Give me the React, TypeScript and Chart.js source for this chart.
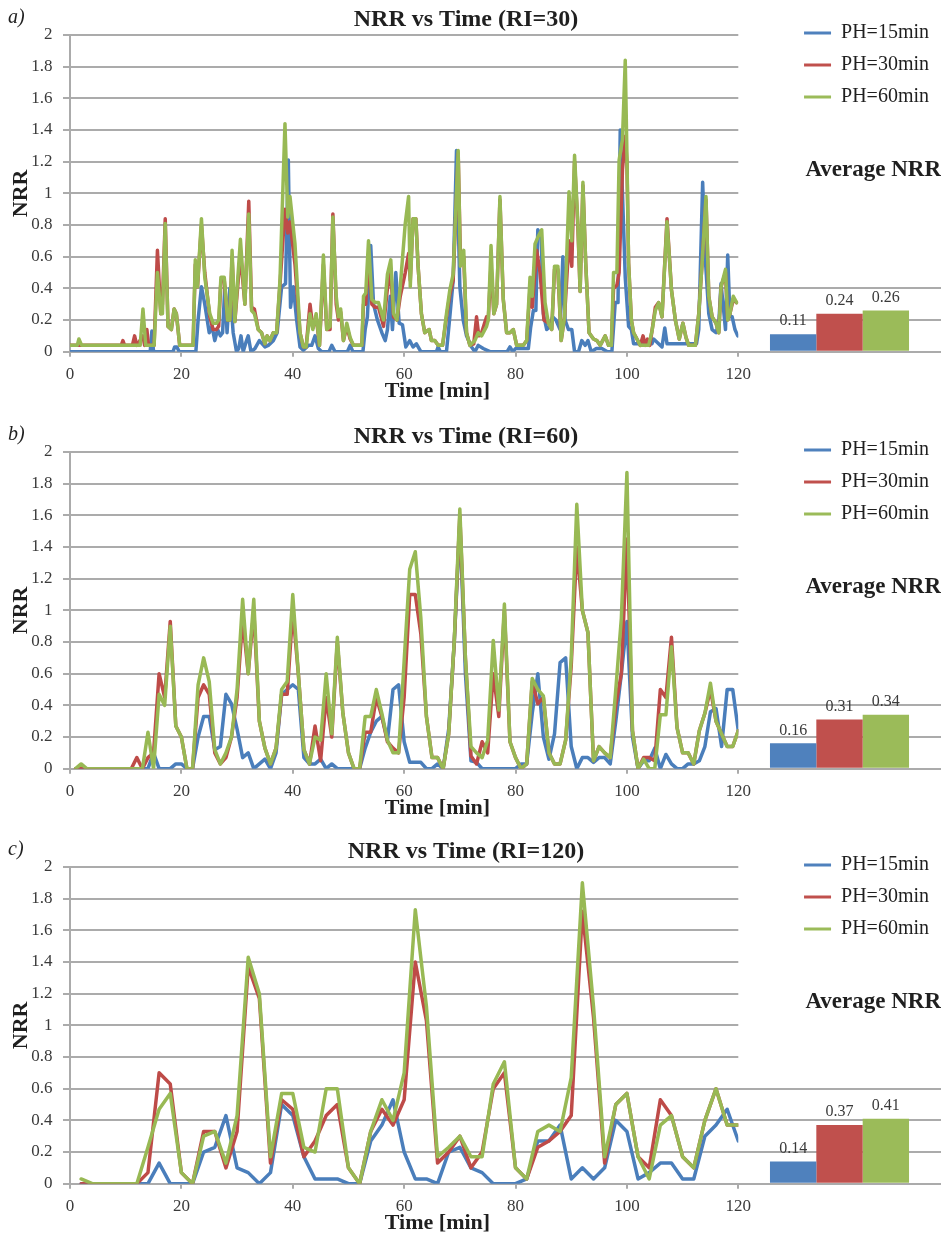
import React, { useEffect, useRef } from 'react';
import { Chart, registerables } from 'chart.js';
Chart.register(...registerables);

const FONT = '"Liberation Serif", "Times New Roman", serif';
const GRID = '#ababab';
const TEXT = '#1f1f1f';
const TICK = '#3a3a3a';
const LINE_COLORS = ['#4A7EBB', '#BE4B48', '#98B954'];
const BAR_COLORS = ['#4F81BD', '#C0504D', '#9BBB59'];

const seriesLabels = ['PH=15min', 'PH=30min', 'PH=60min'];
const panelLetters = ['a)', 'b)', 'c)'];
const panelTitles = ['NRR vs Time (RI=30)', 'NRR vs Time (RI=60)', 'NRR vs Time (RI=120)'];
const xAxisTitle = 'Time [min]';
const yAxisTitle = 'NRR';
const barTitle = 'Average NRR';

// Average NRR per panel
const avgA = [0.11, 0.24, 0.26];
const avgB = [0.16, 0.31, 0.34];
const avgC = [0.14, 0.37, 0.41];
const barAxisMax = [0.4, 0.4, 0.6];

// Panel a (RI=30): [time, NRR] vertices
const a15 = [[0,0],[14.4,0],[14.7,0.13],[15,0],[18.5,0],[18.8,0.03],[19.2,0.03],[19.6,0],[22.6,0],[23,0.2],[23.6,0.41],[24.2,0.3],[25,0.12],[25.5,0.16],[26,0.07],[26.5,0.14],[27,0.1],[27.4,0.12],[27.8,0.41],[28.2,0.12],[28.7,0.4],[29.3,0.12],[29.9,0],[30.3,0.02],[30.7,0.1],[31.1,0],[31.6,0.06],[32,0.1],[32.5,0],[33.2,0.02],[34,0.07],[35,0.03],[35.6,0.04],[36.5,0.07],[37.2,0.12],[38,0.41],[38.7,0.43],[39.2,1.21],[39.6,0.28],[40.1,0.41],[40.7,0.2],[41.3,0.03],[41.9,0.01],[42.8,0.04],[43.4,0.04],[44,0.1],[44.6,0.02],[45.2,0],[46.5,0],[47,0.04],[47.6,0],[49.8,0],[50.3,0.04],[50.8,0],[52.6,0],[53,0.14],[53.4,0.22],[54,0.67],[54.5,0.3],[55.2,0.2],[56,0.12],[56.6,0.07],[57,0.14],[57.5,0.35],[57.9,0.14],[58.5,0.5],[59.1,0.18],[59.7,0.17],[60.3,0.03],[61,0.07],[61.6,0.03],[62.2,0.05],[63,0],[65.8,0],[66.1,0.03],[66.5,0],[67.6,0],[68.2,0.22],[68.8,0.45],[69.4,1.27],[70,0.41],[70.6,0.2],[71.2,0.1],[72.1,0.03],[72.7,0],[73.3,0.04],[74.2,0.02],[75.4,0],[78.5,0],[79,0.03],[79.5,0],[80,0.02],[82.3,0.02],[82.7,0.15],[83.2,0.26],[83.65,0.26],[84,0.77],[84.6,0.73],[85,0.24],[85.6,0.14],[86.2,0.16],[86.65,0.22],[87.25,0.2],[88,0.14],[88.5,0.6],[88.9,0.2],[89.5,0.14],[90.1,0.14],[90.6,0],[91.3,0],[91.9,0.07],[92.5,0.04],[93,0.07],[93.6,0],[94.5,0.02],[95.5,0.02],[96.5,0],[97.3,0],[97.9,0.31],[98.4,0.31],[98.8,1.4],[99.2,1.0],[99.7,0.47],[100.3,0.16],[100.8,0.14],[101.2,0.05],[104.5,0.05],[104.8,0.08],[106.3,0.03],[106.8,0.15],[107.2,0.05],[112.5,0.05],[112.9,0.14],[113.6,1.07],[114.05,0.6],[114.7,0.24],[115.3,0.14],[116,0.12],[116.5,0.18],[116.9,0.43],[117.7,0.14],[118.1,0.61],[118.5,0.22],[118.9,0.22],[119.4,0.14],[119.9,0.1]];
const a30 = [[0,0.04],[9.2,0.04],[9.5,0.07],[9.8,0.04],[11.2,0.04],[11.6,0.1],[12,0.04],[13.1,0.1],[13.4,0.04],[13.8,0.14],[14.1,0.04],[15.1,0.04],[15.7,0.64],[16.3,0.24],[16.6,0.3],[17.1,0.84],[17.6,0.16],[18.2,0.14],[18.7,0.27],[19.1,0.24],[19.7,0.04],[22.1,0.04],[22.5,0.55],[22.9,0.41],[23.6,0.8],[24.2,0.5],[25.1,0.22],[25.7,0.14],[26.3,0.14],[26.7,0.16],[27.1,0.45],[27.7,0.45],[28.3,0.2],[28.7,0.2],[29.1,0.6],[29.6,0.19],[30.6,0.62],[31.4,0.3],[32.1,0.95],[32.6,0.28],[33.1,0.27],[33.8,0.14],[34.4,0.12],[35,0.05],[35.4,0.1],[35.9,0.07],[36.5,0.12],[37.1,0.12],[37.7,0.42],[38.6,0.9],[39.1,0.75],[39.5,0.82],[40.4,0.55],[41.3,0.12],[41.9,0.03],[42.4,0.03],[43.1,0.3],[43.6,0.15],[44.2,0.22],[44.8,0.04],[45.5,0.55],[46.1,0.14],[46.7,0.14],[47.2,0.87],[47.8,0.3],[48.2,0.2],[48.6,0.25],[49.1,0.07],[49.7,0.16],[50.3,0.08],[50.9,0.04],[52.4,0.04],[52.7,0.3],[53.1,0.3],[53.6,0.6],[54.2,0.3],[54.8,0.28],[55.4,0.28],[56.3,0.16],[57,0.4],[57.6,0.5],[58.1,0.22],[58.7,0.2],[59.3,0.35],[60.2,0.5],[60.8,0.62],[61.1,0.45],[61.6,0.84],[62.1,0.84],[62.5,0.54],[63.1,0.24],[63.7,0.12],[64.5,0.14],[64.9,0.07],[65.5,0.07],[66.1,0.04],[66.9,0.04],[67.6,0.22],[68.2,0.36],[68.8,0.45],[69.7,1.25],[70.1,0.6],[70.7,0.6],[71.2,0.12],[71.8,0.04],[72.5,0.05],[73,0.22],[73.4,0.1],[73.9,0.12],[74.8,0.22],[75.1,0.2],[75.6,0.55],[76.1,0.24],[76.6,0.3],[77.2,0.96],[77.8,0.33],[78.4,0.12],[79,0.12],[79.6,0.14],[80.2,0.04],[81.4,0.04],[82,0.07],[82.6,0.4],[83,0.28],[83.8,0.64],[84.4,0.5],[85.1,0.2],[85.9,0.18],[86.5,0.14],[87,0.52],[87.6,0.52],[88.2,0.07],[88.8,0.22],[89.6,0.7],[90.1,0.54],[90.6,1.2],[91.2,0.78],[91.6,0.38],[92.1,1.05],[92.6,0.56],[93.2,0.12],[94,0.08],[94.6,0.07],[95.2,0.04],[96.1,0.1],[96.7,0.04],[97.2,0.04],[97.6,0.4],[98.2,0.42],[98.6,0.5],[99.2,1.15],[99.7,1.36],[100,1.2],[100.3,0.56],[100.8,0.2],[101.2,0.12],[101.8,0.08],[102.4,0.04],[102.9,0.1],[103.3,0.04],[103.7,0.08],[104.1,0.04],[104.5,0.13],[105.1,0.28],[105.7,0.31],[106.3,0.22],[107.2,0.84],[108,0.39],[108.7,0.2],[109.4,0.08],[110.05,0.18],[110.6,0.09],[111.1,0.04],[112.3,0.04],[112.9,0.24],[113.5,0.56],[114.2,0.96],[114.7,0.35],[115.3,0.22],[116,0.18],[116.5,0.12],[116.9,0.41],[117.7,0.5],[118.1,0.2],[118.5,0.24],[119.1,0.33],[119.7,0.31]];
const a60 = [[0,0.04],[1.3,0.04],[1.6,0.08],[2.1,0.04],[12.6,0.04],[13.1,0.27],[13.6,0.04],[15.1,0.04],[15.7,0.5],[16.3,0.24],[16.6,0.24],[17.1,0.81],[17.6,0.16],[18.2,0.14],[18.7,0.27],[19.1,0.24],[19.7,0.04],[22.1,0.04],[22.5,0.58],[22.9,0.41],[23.6,0.84],[24.2,0.47],[25.1,0.24],[25.7,0.18],[26.3,0.18],[26.7,0.2],[27.1,0.47],[27.7,0.47],[28.3,0.2],[28.7,0.2],[29.1,0.64],[29.6,0.19],[30.6,0.71],[31.4,0.3],[32.1,0.87],[32.6,0.26],[33.1,0.24],[33.8,0.14],[34.4,0.12],[35,0.05],[35.4,0.1],[35.9,0.07],[36.5,0.12],[37.1,0.12],[37.7,0.45],[38.6,1.44],[39.1,0.85],[39.5,0.98],[40.4,0.68],[41.3,0.12],[41.9,0.03],[42.4,0.03],[43.1,0.24],[43.6,0.14],[44.2,0.24],[44.8,0.04],[45.5,0.61],[46.1,0.14],[46.7,0.16],[47.2,0.85],[47.8,0.35],[48.2,0.22],[48.6,0.27],[49.1,0.07],[49.7,0.18],[50.3,0.09],[50.9,0.04],[52.4,0.04],[52.7,0.35],[53.1,0.37],[53.6,0.7],[54.2,0.33],[54.8,0.31],[55.4,0.31],[56.3,0.2],[57,0.49],[57.6,0.58],[58.1,0.24],[58.7,0.2],[59.3,0.41],[60.2,0.81],[60.8,0.98],[61.1,0.41],[61.6,0.84],[62.1,0.84],[62.5,0.54],[63.1,0.24],[63.7,0.12],[64.5,0.14],[64.9,0.07],[65.5,0.07],[66.1,0.04],[66.9,0.04],[67.6,0.24],[68.2,0.39],[68.8,0.49],[69.7,1.27],[70.1,0.54],[70.7,0.64],[71.2,0.12],[71.8,0.04],[72.7,0.07],[73.3,0.12],[73.9,0.1],[74.8,0.16],[75.1,0.2],[75.6,0.67],[76.1,0.24],[76.6,0.3],[77.2,0.98],[77.8,0.33],[78.4,0.12],[79,0.12],[79.6,0.14],[80.2,0.04],[81.4,0.04],[82,0.07],[82.6,0.47],[83,0.35],[83.5,0.68],[84.1,0.73],[84.7,0.77],[85.3,0.31],[85.9,0.18],[86.5,0.14],[87,0.54],[87.6,0.54],[88.2,0.07],[88.8,0.22],[89.6,1.01],[90.1,0.7],[90.6,1.24],[91.2,0.81],[91.6,0.38],[92.1,1.07],[92.6,0.56],[93.2,0.12],[94,0.08],[94.6,0.07],[95.2,0.04],[96.1,0.1],[96.7,0.04],[97.2,0.04],[97.6,0.5],[98.2,0.5],[98.6,1.21],[99.2,1.34],[99.7,1.84],[100,1.25],[100.3,0.56],[100.8,0.2],[101.2,0.12],[101.8,0.08],[102.4,0.04],[103.9,0.04],[104.5,0.13],[105.1,0.26],[105.7,0.31],[106.3,0.22],[107.2,0.82],[108,0.39],[108.7,0.2],[109.4,0.08],[110.05,0.18],[110.6,0.09],[111.1,0.04],[112.3,0.04],[112.9,0.24],[113.5,0.56],[114.2,0.98],[114.7,0.35],[115.3,0.22],[116,0.18],[116.5,0.12],[116.9,0.41],[117.7,0.52],[118.1,0.2],[118.5,0.24],[119.1,0.35],[119.7,0.31]];

// Panel b (RI=60): one value per minute
const timeB = [
  1,2,3,4,5,6,7,8,9,10, 11,12,13,14,15,16,17,18,19,20,
  21,22,23,24,25,26,27,28,29,30, 31,32,33,34,35,36,37,38,39,40,
  41,42,43,44,45,46,47,48,49,50, 51,52,53,54,55,56,57,58,59,60,
  61,62,63,64,65,66,67,68,69,70, 71,72,73,74,75,76,77,78,79,80,
  81,82,83,84,85,86,87,88,89,90, 91,92,93,94,95,96,97,98,99,100,
  101,102,103,104,105,106,107,108,109,110, 111,112,113,114,115,116,117,118,119,120
];
const b15 = [
  0,0,0,0,0,0,0,0,0,0,
  0,0,0,0,0.1,0,0,0,0.03,0.03,
  0,0,0.2,0.33,0.33,0.12,0.14,0.47,0.41,0.25,
  0.07,0.1,0,0.03,0.06,0,0.1,0.47,0.5,0.53,
  0.5,0.07,0.03,0.03,0.06,0,0.03,0,0,0,
  0,0,0.13,0.23,0.3,0.33,0.18,0.5,0.53,0.17,
  0.04,0.04,0.04,0,0,0.03,0,0.25,0.8,1.55,
  0.6,0.05,0.04,0,0,0,0,0,0,0,
  0.03,0.03,0.35,0.6,0.2,0.06,0.22,0.67,0.7,0.14,
  0,0.07,0.07,0.04,0.07,0.07,0.03,0.3,0.6,0.93,
  0.2,0,0.05,0.05,0.13,0,0.09,0.03,0,0,
  0.03,0.03,0.05,0.14,0.36,0.38,0.14,0.5,0.5,0.24
];
const b30 = [
  0,0,0,0,0,0,0,0,0,0,
  0,0.07,0,0.07,0.1,0.6,0.45,0.93,0.27,0.2,
  0,0,0.45,0.53,0.47,0.1,0.03,0.07,0.2,0.45,
  0.95,0.6,1.0,0.3,0.13,0.03,0.13,0.47,0.47,1.0,
  0.6,0.12,0.03,0.27,0.05,0.45,0.2,0.8,0.35,0.1,
  0,0,0.23,0.23,0.45,0.33,0.17,0.13,0.1,0.45,
  1.1,1.1,0.85,0.33,0.07,0.07,0,0.22,0.8,1.6,
  0.7,0.08,0.03,0.17,0.1,0.6,0.33,1.0,0.17,0.07,
  0,0.03,0.55,0.41,0.45,0.1,0.03,0.03,0.18,0.65,
  1.4,1.0,0.86,0.05,0.14,0.1,0.07,0.4,0.6,1.45,
  0.24,0,0.07,0.07,0.05,0.5,0.45,0.83,0.26,0.1,
  0.1,0.03,0.24,0.35,0.5,0.3,0.22,0.14,0.14,0.24
];
const b60 = [
  0,0.03,0,0,0,0,0,0,0,0,
  0,0,0,0.23,0,0.47,0.4,0.9,0.27,0.2,
  0,0,0.53,0.7,0.55,0.12,0.03,0.1,0.2,0.5,
  1.07,0.6,1.07,0.3,0.13,0.03,0.13,0.5,0.55,1.1,
  0.6,0.12,0.03,0.2,0.18,0.6,0.22,0.83,0.35,0.1,
  0,0,0.33,0.33,0.5,0.35,0.18,0.1,0.1,0.68,
  1.26,1.37,0.95,0.33,0.07,0.07,0,0.22,0.81,1.64,
  0.7,0.14,0.1,0.07,0.18,0.81,0.37,1.04,0.17,0.07,
  0,0.03,0.57,0.5,0.46,0.1,0.03,0.03,0.18,0.7,
  1.67,1.0,0.86,0.05,0.14,0.1,0.07,0.5,0.95,1.87,
  0.24,0,0.06,0,0,0.34,0.34,0.77,0.26,0.1,
  0.1,0.03,0.24,0.35,0.54,0.3,0.22,0.14,0.14,0.24
];

// Panel c (RI=120): one value every 2 minutes
const timeC = [
  2,4,6,8,10,12,14,16,18,20, 22,24,26,28,30,32,34,36,38,40,
  42,44,46,48,50,52,54,56,58,60, 62,64,66,68,70,72,74,76,78,80,
  82,84,86,88,90,92,94,96,98,100, 102,104,106,108,110,112,114,116,118,120
];
const c15 = [
  0,0,0,0,0,0,0,0.13,0,0,
  0,0.2,0.23,0.43,0.1,0.07,0,0.07,0.5,0.43,
  0.17,0.03,0.03,0.03,0,0,0.27,0.37,0.53,0.2,
  0.03,0.03,0,0.2,0.23,0.1,0.07,0,0,0,
  0.03,0.27,0.27,0.37,0.03,0.1,0.03,0.1,0.4,0.33,
  0.03,0.07,0.13,0.13,0.03,0.03,0.3,0.37,0.47,0.27
];
const c30 = [
  0,0,0,0,0,0,0.07,0.7,0.63,0.07,
  0,0.33,0.33,0.1,0.33,1.37,1.17,0.13,0.53,0.47,
  0.17,0.27,0.43,0.5,0.1,0,0.33,0.47,0.37,0.53,
  1.4,1.03,0.13,0.2,0.3,0.1,0.2,0.6,0.7,0.1,
  0.03,0.23,0.27,0.33,0.43,1.72,1.05,0.13,0.5,0.57,
  0.17,0.1,0.53,0.43,0.17,0.1,0.4,0.6,0.37,0.37
];
const c60 = [
  0.03,0,0,0,0,0,0.23,0.47,0.57,0.07,
  0,0.3,0.33,0.13,0.43,1.43,1.2,0.17,0.57,0.57,
  0.23,0.2,0.6,0.6,0.1,0,0.33,0.53,0.4,0.7,
  1.73,1.12,0.17,0.23,0.3,0.17,0.17,0.63,0.77,0.1,
  0.03,0.33,0.37,0.33,0.67,1.9,1.12,0.17,0.5,0.57,
  0.17,0.03,0.37,0.43,0.17,0.1,0.4,0.6,0.37,0.37
];

const pairs = (arr: number[][]) => arr.map(([x, y]) => ({ x, y }));
const zip = (t: number[], v: number[]) => t.map((x, i) => ({ x, y: v[i] }));

const panelSeries = [
  [pairs(a15), pairs(a30), pairs(a60)],
  [zip(timeB, b15), zip(timeB, b30), zip(timeB, b60)],
  [zip(timeC, c15), zip(timeC, c30), zip(timeC, c60)],
];
const panelAverages = [avgA, avgB, avgC];
const panelTops = [0, 417, 832];

const W = 941;
const LINE_H = 405;
const PLOT_BOTTOM = 351.7;
const PLOT_RIGHT = 738.3;
const BAR_LEFT = 738;
const BAR_W = W - BAR_LEFT;
const BAR_H = 356;
const PX_PER_UNIT = 158.35;

function Panel({ idx }: { idx: number }) {
  const lineRef = useRef<HTMLCanvasElement>(null);
  const barRef = useRef<HTMLCanvasElement>(null);

  useEffect(() => {
    const textPlugin = {
      id: 'panelText',
      afterDraw(chart: any) {
        const ctx = chart.ctx;
        ctx.save();
        ctx.fillStyle = TEXT;
        ctx.textBaseline = 'middle';
        ctx.textAlign = 'left';
        ctx.font = `italic 20px ${FONT}`;
        ctx.fillText(panelLetters[idx], 8, 17.5);
        ctx.font = `bold 22px ${FONT}`;
        ctx.textAlign = 'center';
        ctx.fillText(xAxisTitle, 437.5, 391);
        ctx.restore();
      },
    };

    const lineChart = new Chart(lineRef.current as HTMLCanvasElement, {
      type: 'line',
      data: {
        datasets: panelSeries[idx].map((pts, i) => ({
          label: seriesLabels[i],
          data: pts,
          borderColor: LINE_COLORS[i],
          backgroundColor: LINE_COLORS[i],
          borderWidth: 3.5,
          pointRadius: 0,
          tension: 0,
          borderJoinStyle: 'round',
          borderCapStyle: 'round',
          order: 2 - i,
          xAxisID: 'x',
          yAxisID: 'y',
        })),
      },
      options: {
        animation: false,
        responsive: false,
        maintainAspectRatio: false,
        layout: { padding: { left: 0, right: 9, top: 0, bottom: 0 } },
        plugins: {
          legend: { display: false },
          tooltip: { enabled: false },
          title: {
            display: true,
            text: panelTitles[idx],
            color: TEXT,
            font: { family: FONT, size: 24, weight: 'bold' },
            padding: { top: 5.6, bottom: 0.6 },
          },
        },
        scales: {
          x: {
            type: 'linear',
            min: 0,
            max: 120,
            ticks: { stepSize: 20, color: TICK, font: { family: FONT, size: 17 }, padding: 8 },
            grid: { drawOnChartArea: false, drawTicks: true, tickLength: 5, color: GRID, lineWidth: 2 },
            border: { display: true, color: GRID, width: 2 },
            afterFit: (s: any) => { s.height = LINE_H - PLOT_BOTTOM; },
          },
          y: {
            type: 'linear',
            min: 0,
            max: 2,
            ticks: {
              stepSize: 0.2,
              color: TICK,
              font: { family: FONT, size: 17 },
              padding: 10.5,
              callback: (v: any) => String(Number(Number(v).toFixed(1))),
            },
            grid: { color: GRID, lineWidth: 2, tickLength: 7 },
            border: { display: true, color: GRID, width: 2 },
            title: {
              display: true,
              text: yAxisTitle,
              color: TEXT,
              font: { family: FONT, size: 22, weight: 'bold' },
              padding: { top: 8, bottom: 0 },
            },
            afterFit: (s: any) => { s.width = 70; },
          },
          yR: {
            type: 'linear',
            position: 'right',
            display: true,
            grid: { display: false },
            ticks: { display: false },
            border: { display: false },
            afterFit: (s: any) => { s.width = (W - 9) - PLOT_RIGHT; },
          },
        },
      },
      plugins: [textPlugin],
    } as any);

    const barLabelPlugin = {
      id: 'barLabels',
      afterDatasetsDraw(chart: any) {
        const ctx = chart.ctx;
        ctx.save();
        ctx.font = `16px ${FONT}`;
        ctx.fillStyle = TICK;
        ctx.textAlign = 'center';
        ctx.textBaseline = 'bottom';
        chart.data.datasets.forEach((ds: any, i: number) => {
          const meta = chart.getDatasetMeta(i);
          meta.data.forEach((el: any, j: number) => {
            ctx.fillText(Number(ds.data[j]).toFixed(2), el.x, el.y - 5);
          });
        });
        ctx.restore();
      },
    };

    const topTarget = PLOT_BOTTOM - barAxisMax[idx] * PX_PER_UNIT;
    const titlePadBottom = topTarget - 183.8;

    const barChart = new Chart(barRef.current as HTMLCanvasElement, {
      type: 'bar',
      data: {
        labels: [''],
        datasets: panelAverages[idx].map((v, i) => ({
          label: seriesLabels[i],
          data: [v],
          backgroundColor: BAR_COLORS[i],
          borderColor: LINE_COLORS[i],
          borderWidth: 0,
          categoryPercentage: 0.685,
          barPercentage: 1,
        })),
      },
      options: {
        animation: false,
        responsive: false,
        maintainAspectRatio: false,
        layout: { padding: { top: 11, bottom: BAR_H - PLOT_BOTTOM, left: 0, right: 0 } },
        plugins: {
          tooltip: { enabled: false },
          legend: {
            display: true,
            position: 'top',
            align: 'end',
            weight: 3000,
            labels: {
              boxWidth: 27,
              boxHeight: 3,
              padding: 12,
              color: TEXT,
              font: { family: FONT, size: 20 },
            },
          },
          title: {
            display: true,
            text: barTitle,
            position: 'top',
            align: 'end',
            weight: 1000,
            color: TEXT,
            font: { family: FONT, size: 23, weight: 'bold' },
            padding: { top: 39.2, bottom: titlePadBottom },
          },
        },
        scales: {
          x: { display: false },
          y: {
            min: 0,
            max: barAxisMax[idx],
            ticks: { display: false, stepSize: 0.2 },
            grid: { color: GRID, lineWidth: 2, drawTicks: false },
            border: { display: false },
            afterFit: (s: any) => { s.width = 0; },
          },
        },
      },
      plugins: [barLabelPlugin],
    } as any);

    return () => {
      lineChart.destroy();
      barChart.destroy();
    };
  }, [idx]);

  return (
    <div style={{ position: 'absolute', left: 0, top: panelTops[idx], width: W, height: LINE_H }}>
      <canvas
        ref={lineRef}
        width={W}
        height={LINE_H}
        style={{ position: 'absolute', left: 0, top: 0, width: W, height: LINE_H }}
      />
      <canvas
        ref={barRef}
        width={BAR_W}
        height={BAR_H}
        style={{ position: 'absolute', left: BAR_LEFT, top: 0, width: BAR_W, height: BAR_H }}
      />
    </div>
  );
}

export default function App() {
  return (
    <div
      style={{
        position: 'absolute',
        left: 0,
        top: 0,
        width: W,
        height: 1240,
        overflow: 'hidden',
        background: '#ffffff',
      }}
    >
      {[0, 1, 2].map((i) => (
        <Panel key={i} idx={i} />
      ))}
    </div>
  );
}
